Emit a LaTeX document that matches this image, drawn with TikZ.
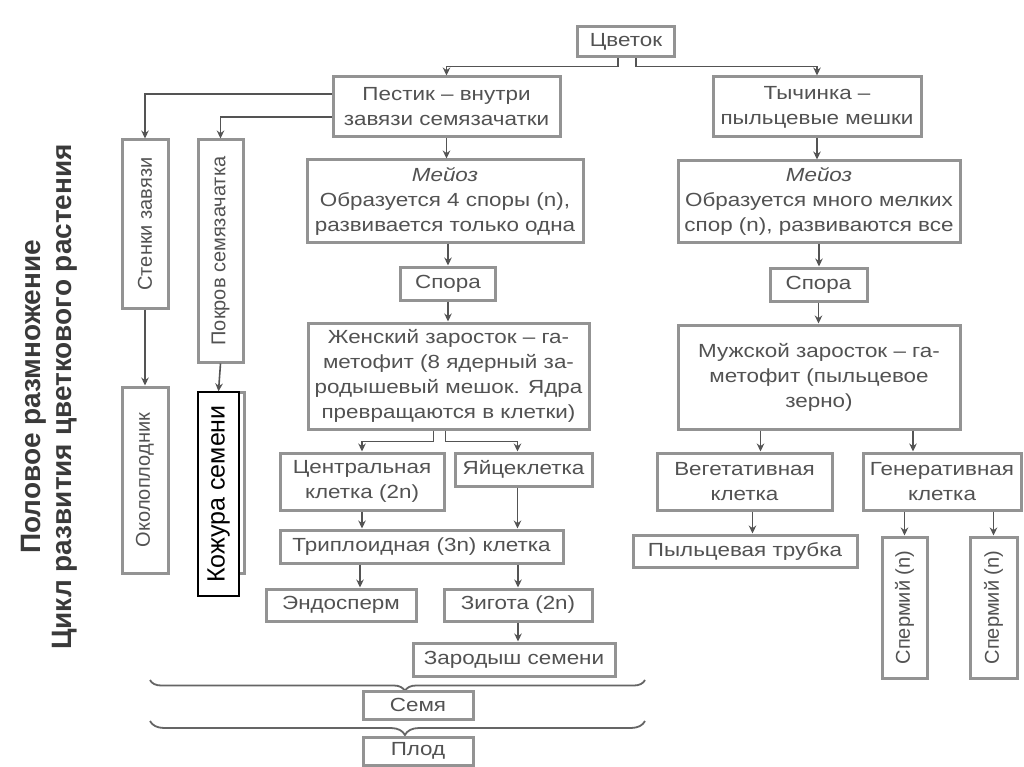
\documentclass[tikz,border=0pt]{standalone}
\usepackage{fontspec}
\setmainfont[FakeStretch=1.18]{Liberation Sans}
\newfontfamily\rotfont{Liberation Sans}
\usepackage{graphicx}
\usetikzlibrary{arrows.meta,decorations.pathreplacing}
\definecolor{boxc}{HTML}{939393}
\definecolor{txt}{HTML}{525252}
\definecolor{arrc}{HTML}{545454}
\definecolor{titc}{HTML}{3A3A3A}
\tikzset{
  box/.style={draw=boxc, line width=3pt, fill=white, text=txt, inner sep=0pt,
    align=center, font=\fontsize{19}{25}\selectfont},
  rbox/.style={draw=boxc, line width=3pt, fill=white, text=txt, inner sep=0pt,
    font=\rotfont\fontsize{20}{24}\selectfont},
  arr/.style={draw=arrc, line width=1.6pt, -{Stealth[length=8pt,width=7.5pt]}},
  brc/.style={draw=arrc!90, line width=1.8pt, decorate},
}
\begin{document}
\begin{tikzpicture}[x=1pt,y=-1pt]
\fill[white] (0,0) rectangle (1024,767);
\useasboundingbox (0,0) rectangle (1024,767);

% title
\node[text=titc, inner sep=0pt, font=\rotfont\bfseries\fontsize{28}{31}\selectfont] (title) at (50,397)
  {\rotatebox{90}{\begin{tabular}{@{}c@{}}Половое размножение\\Цикл развития цветкового растения\end{tabular}}};

% top
\node[box, minimum width=97pt, minimum height=30pt] (cvet) at (626,42) {Цветок};
\node[box, minimum width=227pt, minimum height=60pt] (pest) at (446.5,107) {Пестик – внутри\\завязи семязачатки};
\node[box, minimum width=208pt, minimum height=60pt] (tych) at (817,107) {Тычинка –\\пыльцевые мешки};

% left vertical boxes
\node[rbox, minimum width=46pt, minimum height=168pt] (sten) at (145,224) {\rotatebox{90}{Стенки завязи}};
\node[rbox, minimum width=45pt, minimum height=222pt] (pokr) at (220.5,251) {\rotatebox{90}{Покров семязачатка}};
\node[rbox, minimum width=46pt, minimum height=186pt] (okol) at (145,480) {\rotatebox{90}{Околоплодник}};
\node[rbox, minimum width=44pt, minimum height=181pt] (kozhg) at (222,482.5) {};
\node[draw=black, line width=1.2pt, fill=white, text=black, inner sep=0pt,
  minimum width=41pt, minimum height=204pt, font=\rotfont\fontsize{25}{28}\selectfont]
  (kozh) at (218.5,494) {\rotatebox{90}{Кожура семени}};

% female line
\node[box, minimum width=276pt, minimum height=82pt] (meil) at (445,201)
  {{\itshape Мейоз}\\Образуется 4 споры (n),\\развивается только одна};
\node[box, minimum width=95pt, minimum height=33pt] (spl) at (448,283.5) {Спора};
\node[box, minimum width=281pt, minimum height=106pt] (zhen) at (448.5,376)
  {Женский заросток – га-\\метофит (8 ядерный за-\\родышевый мешок. Ядра\\превращаются в клетки)};
\node[box, minimum width=164pt, minimum height=57pt] (centr) at (362,481.5) {Центральная\\клетка (2n)};
\node[box, minimum width=137pt, minimum height=33pt] (yaic) at (523.5,469.5) {Яйцеклетка};
\node[box, minimum width=283pt, minimum height=33pt] (tripl) at (421.5,546.5) {Триплоидная (3n) клетка};
\node[box, minimum width=150pt, minimum height=32pt] (endo) at (341,605) {Эндосперм};
\node[box, minimum width=148pt, minimum height=32pt] (zig) at (518,605) {Зигота (2n)};
\node[box, minimum width=202pt, minimum height=33pt] (zar) at (514,659.5) {Зародыш семени};

% braces and results
\draw[brc, decoration={brace, amplitude=11pt, aspect=0.485}] (645,680) -- (150,680);
\draw[brc, decoration={brace, amplitude=14pt, aspect=0.485}] (645,721) -- (150,721);
\node[box, minimum width=110pt, minimum height=28pt] (semya) at (418,705) {Семя};
\node[box, minimum width=110pt, minimum height=28pt] (plod) at (418,751) {Плод};

% male line
\node[box, minimum width=282pt, minimum height=81pt] (meir) at (819,201.5)
  {{\itshape Мейоз}\\Образуется много мелких\\спор (n), развиваются все};
\node[box, minimum width=97pt, minimum height=33pt] (spr) at (818.5,284.5) {Спора};
\node[box, minimum width=282pt, minimum height=104pt] (muzh) at (819,377)
  {Мужской заросток – га-\\метофит (пыльцевое\\зерно)};
\node[box, minimum width=175pt, minimum height=57pt] (veg) at (744.5,481.5) {Вегетативная\\клетка};
\node[box, minimum width=158pt, minimum height=57pt] (gen) at (942,481.5) {Генеративная\\клетка};
\node[box, minimum width=224pt, minimum height=32pt] (tube) at (745,551) {Пыльцевая трубка};
\node[rbox, minimum width=45pt, minimum height=141pt] (sp1) at (904.5,607.5) {\rotatebox{90}{Спермий (n)}};
\node[rbox, minimum width=47pt, minimum height=141pt] (sp2) at (993.5,607.5) {\rotatebox{90}{Спермий (n)}};

% connectors
\draw[arr] ([xshift=-8pt]cvet.south) -- ++(0,8) -| (pest.north);
\draw[arr] ([xshift=10pt]cvet.south) -- ++(0,8) -| (tych.north);
\draw[arr] ([yshift=13pt]pest.west) -| (sten.north);
\draw[arr] ([yshift=-10pt]pest.west) -| (pokr.north);
\draw[arr] (sten.south) -- (okol.north);
\draw[arr] (pokr.south) -- (kozh.north);
\draw[arr] (pest.south) -- (pest.south |- meil.north);
\draw[arr] (spl.north |- meil.south) -- (spl.north);
\draw[arr] (spl.south) -- (spl.south |- zhen.north);
\draw[arr] ([xshift=-15pt]zhen.south) -- ++(0,11) -| (centr.north);
\draw[arr] ([xshift=-3pt]zhen.south) -- ++(0,11) -| ([xshift=-6pt]yaic.north);
\draw[arr] (centr.south) -- (centr.south |- tripl.north);
\draw[arr] ([xshift=-6pt]yaic.south) -- ([xshift=-6pt]yaic.south |- tripl.north);
\draw[arr] ([xshift=19pt]endo.north |- tripl.south) -- ([xshift=19pt]endo.north);
\draw[arr] (zig.north |- tripl.south) -- (zig.north);
\draw[arr] (zig.south) -- (zig.south |- zar.north);

\draw[arr] (tych.south) -- (tych.south |- meir.north);
\draw[arr] (meir.south) -- (meir.south |- spr.north);
\draw[arr] (spr.south) -- (spr.south |- muzh.north);
\draw[arr] ([xshift=16pt]veg.north |- muzh.south) -- ([xshift=16pt]veg.north);
\draw[arr] ([xshift=-29pt]gen.north |- muzh.south) -- ([xshift=-29pt]gen.north);
\draw[arr] ([xshift=8pt]veg.south) -- ([xshift=8pt]veg.south |- tube.north);
\draw[arr] (sp1.north |- gen.south) -- (sp1.north);
\draw[arr] (sp2.north |- gen.south) -- (sp2.north);
\end{tikzpicture}
\end{document}
